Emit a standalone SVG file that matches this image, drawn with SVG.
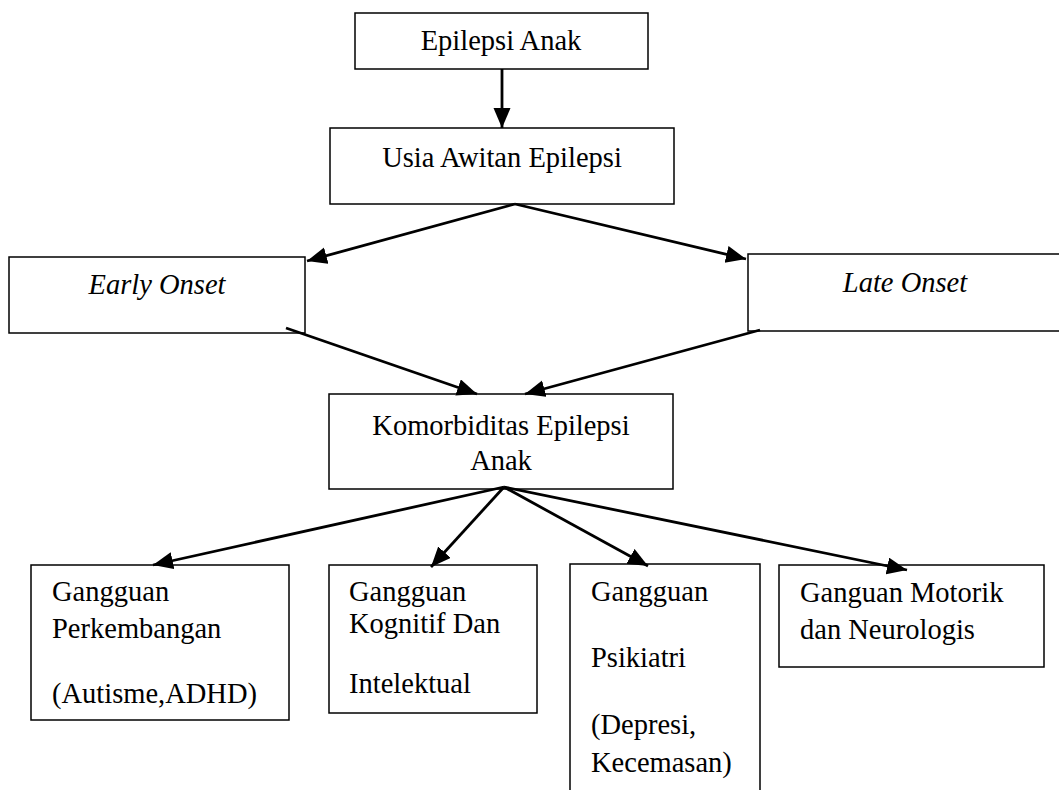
<svg xmlns="http://www.w3.org/2000/svg" width="1059" height="790" viewBox="0 0 1059 790">
<defs>
<style>
.box{fill:#fff;stroke:#000;stroke-width:1.5}
.t{font-family:"Liberation Serif","Times New Roman",serif;font-size:28.5px;fill:#000}
.c{text-anchor:middle}
.i{font-style:italic}
.edge{stroke:#000;stroke-width:2.8;fill:none;marker-end:url(#ah)}
</style>
<marker id="ah" markerUnits="userSpaceOnUse" markerWidth="22" markerHeight="18" refX="20" refY="8.5" orient="auto">
<path d="M0,0 L20,8.5 L0,17 z" fill="#000"/>
</marker>
</defs>
<rect width="1059" height="790" fill="#fff"/>
<g id="n-epilepsi-anak">
<rect class="box" x="355" y="13" width="293" height="56"/>
<text class="t c" x="501" y="50">Epilepsi Anak</text>
</g>
<g id="n-usia">
<rect class="box" x="330" y="128" width="344" height="76"/>
<text class="t c" x="502" y="167">Usia Awitan Epilepsi</text>
</g>
<g id="n-early">
<rect class="box" x="9" y="257" width="296" height="76"/>
<text class="t c i" x="157" y="294">Early Onset</text>
</g>
<g id="n-late">
<rect class="box" x="748" y="254" width="330" height="77"/>
<text class="t c i" x="905" y="292">Late Onset</text>
</g>
<g id="n-komorbiditas">
<rect class="box" x="329" y="394" width="344" height="95"/>
<text class="t c" x="501" y="435">Komorbiditas Epilepsi</text>
<text class="t c" x="501" y="470">Anak</text>
</g>
<g id="n-perkembangan">
<rect class="box" x="31" y="565" width="258" height="155"/>
<text class="t" x="52" y="601">Gangguan</text>
<text class="t" x="52" y="638">Perkembangan</text>
<text class="t" x="52" y="703">(Autisme,ADHD)</text>
</g>
<g id="n-kognitif">
<rect class="box" x="329" y="565" width="208" height="148"/>
<text class="t" x="349" y="601">Gangguan</text>
<text class="t" x="349" y="633">Kognitif Dan</text>
<text class="t" x="349" y="693">Intelektual</text>
</g>
<g id="n-psikiatri">
<path class="box" d="M570,800 L570,564 L760,564 L760,800"/>
<text class="t" x="591" y="601">Gangguan</text>
<text class="t" x="591" y="667">Psikiatri</text>
<text class="t" x="591" y="734">(Depresi,</text>
<text class="t" x="591" y="772">Kecemasan)</text>
</g>
<g id="n-motorik">
<rect class="box" x="779" y="565" width="265" height="102"/>
<text class="t" x="800" y="602">Ganguan Motorik</text>
<text class="t" x="800" y="639">dan Neurologis</text>
</g>
<g id="connectors">
<path class="edge" d="M502,69 L502,128"/>
<path class="edge" d="M515,204 L307,261"/>
<path class="edge" d="M515,204 L746,259"/>
<path class="edge" d="M286,328 L477,394"/>
<path class="edge" d="M760,330 L525,394"/>
<path class="edge" d="M504,487 L153,565"/>
<path class="edge" d="M504,487 L431,567"/>
<path class="edge" d="M504,487 L648,566"/>
<path class="edge" d="M504,487 L907,570"/>
</g>
</svg>
